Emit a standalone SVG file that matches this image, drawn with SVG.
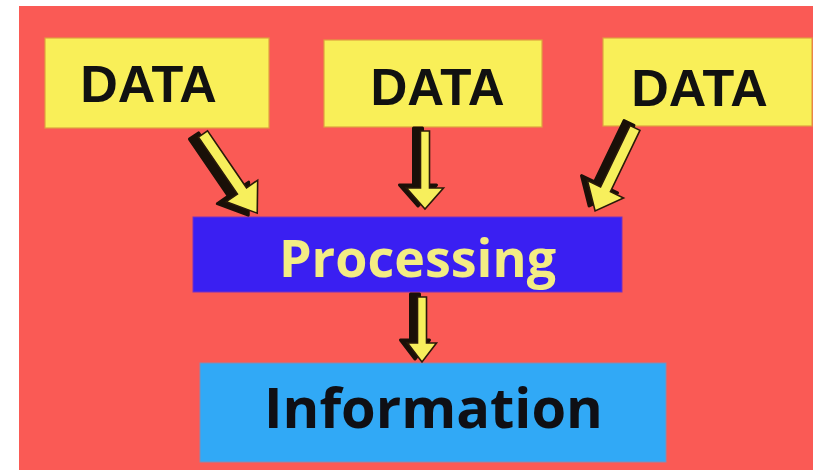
<svg xmlns="http://www.w3.org/2000/svg" xmlns:xlink="http://www.w3.org/1999/xlink" width="816" height="470" viewBox="0 0 816 470">
<style>
.data-box{fill:#f9ef58;stroke:#e0a040;stroke-width:1.2}
.data-text{font-family:"Liberation Sans",Arial,sans-serif;font-weight:bold;font-size:52px;fill:#111111;text-anchor:middle}
.proc-box{fill:#3a1ff2;stroke:#7a30c0;stroke-width:1}
.info-box{fill:#31a9f6;stroke:#8a8ab0;stroke-width:1}
.label{font-family:"Open Sans","Noto Sans",sans-serif;font-weight:bold;text-anchor:middle}
.arrow{fill:#f7ef5c;stroke:#2a1a0a;stroke-width:1.6;stroke-linejoin:miter}
.shadow{fill:#1a1008;stroke:#1a1008;stroke-width:3;stroke-linejoin:round}
</style>
<defs>
<path id="a1" d="M-5.5,0 L5.5,0 L5.5,69 L19,69 L0,96 L-19,69 L-5.5,69 Z" transform="translate(203,134) rotate(-34.4)"/>
<path id="a2" d="M-4.5,0 L4.5,0 L4.5,57 L18.5,57 L0,78 L-18.5,57 L-4.5,57 Z" transform="translate(425,131)"/>
<path id="a3" d="M-5.5,0 L5.5,0 L5.5,68 L20,68 L0,92 L-20,68 L-5.5,68 Z" transform="translate(635,128) rotate(25.7)"/>
<path id="a4" d="M-4.5,0 L4.5,0 L4.5,46 L14.5,46 L0,65 L-14.5,46 L-4.5,46 Z" transform="translate(422,297)"/>
</defs>
<rect x="0" y="0" width="816" height="470" fill="#ffffff"/>
<rect x="19" y="6" width="794" height="464" fill="#fa5a55"/>
<g id="data1">
<rect class="data-box" x="45" y="38" width="224" height="90"/>
<text class="data-text" x="148.5" y="102">DATA</text>
</g>
<g id="data2">
<rect class="data-box" x="324" y="40" width="218" height="87"/>
<text class="data-text" x="437.5" y="105" style="font-size:51px">DATA</text>
</g>
<g id="data3">
<rect class="data-box" x="603" y="38" width="209" height="88"/>
<text class="data-text" x="699.5" y="106">DATA</text>
</g>
<g id="processing">
<rect class="proc-box" x="193" y="217" width="429" height="75"/>
<text class="label" x="417.5" y="277" font-size="52" fill="#f3ec84">Processing</text>
</g>
<g id="information">
<rect class="info-box" x="200" y="363" width="466" height="99"/>
<text class="label" x="433.5" y="428" font-size="56" fill="#0f0f14">Information</text>
</g>
<g id="connectors">
<use xlink:href="#a1" class="shadow" transform="translate(-9,2)"/>
<use xlink:href="#a1" class="arrow"/>
<use xlink:href="#a2" class="shadow" transform="translate(-7,-3)"/>
<use xlink:href="#a2" class="arrow"/>
<use xlink:href="#a3" class="shadow" transform="translate(-6,-5)"/>
<use xlink:href="#a3" class="arrow"/>
<use xlink:href="#a4" class="shadow" transform="translate(-7,-3)"/>
<use xlink:href="#a4" class="arrow"/>
</g>
</svg>
